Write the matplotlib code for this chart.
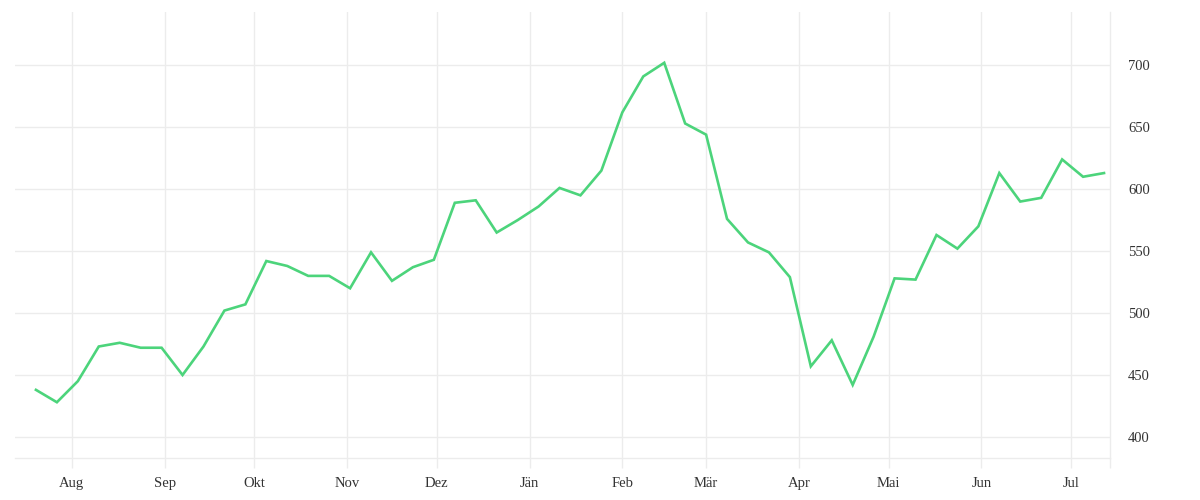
import numpy as np
import pandas as pd
import matplotlib
matplotlib.use("Agg")
import matplotlib.pyplot as plt
import matplotlib.dates as mdates

# weekly values
start = "2018-07-20"
values = [438, 428, 445, 473, 476, 472, 472, 450, 473, 502,
          507, 542, 538, 530, 530, 520, 549, 526, 537, 543,
          589, 591, 565, 575, 586, 601, 595, 615, 662, 691,
          702, 653, 644, 576, 557, 549, 529, 457, 478, 442,
          481, 528, 527, 563, 552, 570, 613, 590, 593, 624,
          610, 613]
dates = pd.date_range(start, periods=len(values), freq="7D")

month_ticks = pd.date_range("2018-08-01", "2019-07-01", freq="MS")
month_labels = ["Aug", "Sep", "Okt", "Nov", "Dez", "Jän", "Feb", "Mär",
                "Apr", "Mai", "Jun", "Jul"]
y_ticks = [400, 450, 500, 550, 600, 650, 700]

plt.rcParams['font.family'] = ['Liberation Serif', 'DejaVu Serif']

fig = plt.figure(figsize=(12, 5), dpi=100)
ax = fig.add_axes([0.0125, 0.084, 0.9125, 0.892])

ax.plot(dates, values, color="#4cd47b", linewidth=1.9, solid_joinstyle="miter")

ax.set_xlim(pd.Timestamp("2018-07-13"), pd.Timestamp("2019-07-14"))
ax.set_ylim(383, 743)

ax.set_xticks(month_ticks)
ax.set_xticklabels(month_labels)
ax.set_xticks([pd.Timestamp("2019-07-14")], minor=True)
ax.set_yticks(y_ticks)
ax.yaxis.tick_right()

ax.grid(True, color="#ececec", linewidth=1)
ax.set_axisbelow(True)

for s in ["top", "left"]:
    ax.spines[s].set_visible(False)
for s in ["bottom", "right"]:
    ax.spines[s].set_color("#ececec")
    ax.spines[s].set_linewidth(1)

ax.tick_params(axis="x", which="both", length=7.5, width=1, color="#ececec",
               pad=6, labelsize=10.5, labelcolor="#333333")
ax.tick_params(axis="y", length=0, pad=13, labelsize=10.5, labelcolor="#333333")

fig.savefig("out.png", dpi=100)
